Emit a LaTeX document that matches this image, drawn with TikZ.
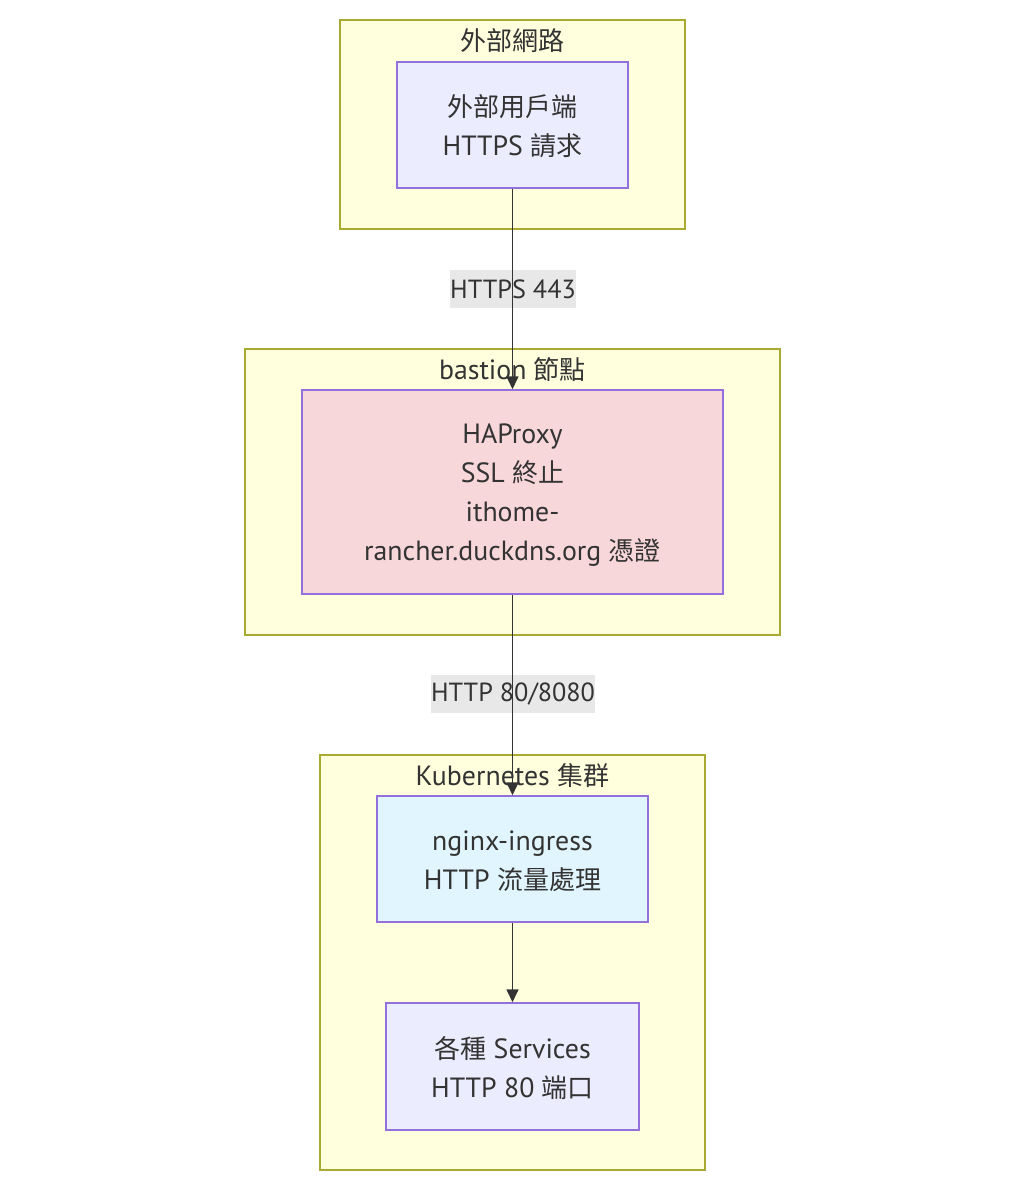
\documentclass[tikz,border=0pt]{standalone}
\usepackage{fontspec}
\setmainfont{PT Sans}[Scale=1.07]
\newfontfamily\cjk{Noto Sans CJK TC}
\usetikzlibrary{arrows.meta}
\definecolor{clfill}{HTML}{FFFFDE}
\definecolor{cldraw}{HTML}{AAAA33}
\definecolor{ndfill}{HTML}{ECECFF}
\definecolor{nddraw}{HTML}{9370DB}
\definecolor{hafill}{HTML}{F8D7DA}
\definecolor{ngfill}{HTML}{E1F5FE}
\definecolor{lbfill}{HTML}{E8E8E8}
\definecolor{txt}{HTML}{333333}
\tikzset{
  cluster/.style={draw=cldraw, fill=clfill, line width=1.5pt},
  box/.style={draw=nddraw, fill=ndfill, line width=1.5pt, inner sep=0pt},
  boxtext/.style={align=center, text=txt, inner sep=0pt, font=\fontsize{26}{39}\selectfont},
  ttl/.style={text=txt, inner sep=0pt, font=\fontsize{26}{30}\selectfont},
  elabel/.style={fill=lbfill, text=txt, inner sep=0pt, font=\fontsize{24.5}{30}\selectfont},
  conn/.style={draw=txt, line width=1.6pt, -{Triangle[width=12pt,length=13pt]}}
}
\begin{document}
\begin{tikzpicture}[x=1pt,y=-1pt]
\useasboundingbox[fill=white] (0,0) rectangle (1024,1194);
% clusters
\draw[cluster] (340,20) rectangle (685,229);
\draw[cluster] (245,349) rectangle (780,635);
\draw[cluster] (320,755) rectangle (705,1170);
\node[ttl] (t1) at (512.5,41) {\cjk 外部網路};
\node[ttl] (t2) at (512.5,369.5) {bastion {\cjk 節點}};
\node[ttl] (t3) at (512.5,775.5) {Kubernetes {\cjk 集群}};
% nodes
\node[box, minimum width=231pt, minimum height=126pt,
  label={[boxtext,yshift=-1.5pt]center:{{\cjk 外部用戶端}\\HTTPS {\cjk 請求}}}] (n1) at (512.5,125) {};
\node[box, fill=hafill, minimum width=421pt, minimum height=204pt,
  label={[boxtext,yshift=-3.5pt]center:{HAProxy\\SSL {\cjk 終止}\\ithome-\\rancher.duckdns.org {\cjk 憑證}}}] (n2) at (512.5,492) {};
\node[box, fill=ngfill, minimum width=271pt, minimum height=126pt,
  label={[boxtext,yshift=-2pt]center:{nginx-ingress\\HTTP {\cjk 流量處理}}}] (n3) at (512.5,859) {};
\node[box, minimum width=253pt, minimum height=127pt,
  label={[boxtext,yshift=-1.5pt]center:{{\cjk 各種} Services\\HTTP 80 {\cjk 端口}}}] (n4) at (512.5,1066.5) {};
% edge labels
\node[elabel, minimum width=122pt, minimum height=38pt] (l1) at (513,289) {HTTPS 443};
\node[elabel, minimum width=164pt, minimum height=38pt] (l2) at (513,694) {HTTP 80/8080};
% edges
\draw[conn] (n1.south) -- (n2.north);
\draw[conn] (n2.south) -- (n3.north);
\draw[conn] (n3.south) -- (n4.north);
\end{tikzpicture}
\end{document}
